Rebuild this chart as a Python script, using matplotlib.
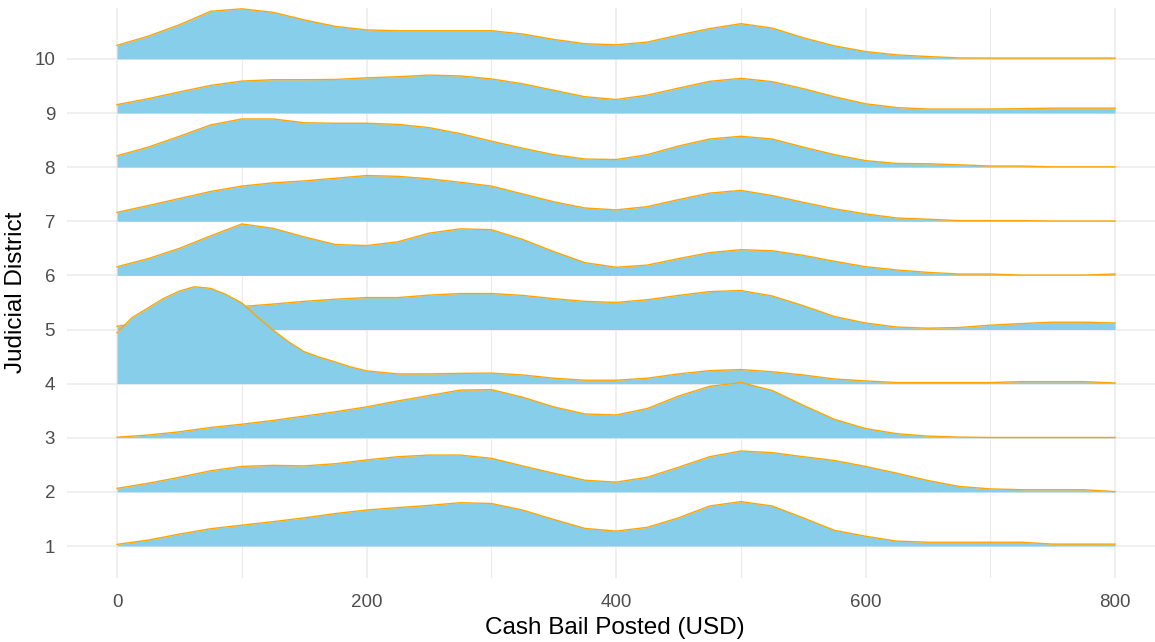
import matplotlib
matplotlib.use("Agg")
import matplotlib.pyplot as plt
from matplotlib.ticker import MultipleLocator

# ---- data (ridge heights, in y-units above each district's baseline) ----
districts = [1, 2, 3, 4, 5, 6, 7, 8, 9, 10]
x_grid = [0, 25, 50, 75, 100, 125, 150, 175, 200, 225, 250, 275, 300, 325, 350,
          375, 400, 425, 450, 475, 500, 525, 550, 575, 600, 625, 650, 675, 700,
          725, 750, 775, 800]
x_d4 = [0, 12, 25, 37, 50, 62, 75, 87, 100, 112, 125, 137, 150, 162, 175, 187,
        200, 225, 250, 275, 300, 325, 350, 375, 400, 425, 450, 475, 500, 525,
        550, 575, 600, 625, 650, 675, 700, 725, 750, 775, 800]

h_d1 = [0.03, 0.11, 0.22, 0.32, 0.385, 0.45, 0.52, 0.60, 0.665, 0.71, 0.75, 0.80,
        0.785, 0.665, 0.49, 0.325, 0.275, 0.345, 0.52, 0.74, 0.82, 0.74, 0.52,
        0.29, 0.18, 0.09, 0.07, 0.07, 0.07, 0.07, 0.035, 0.035, 0.035]
h_d2 = [0.065, 0.16, 0.27, 0.39, 0.47, 0.49, 0.48, 0.52, 0.59, 0.65, 0.68, 0.68,
        0.62, 0.48, 0.345, 0.215, 0.18, 0.27, 0.455, 0.65, 0.755, 0.725, 0.65,
        0.58, 0.47, 0.345, 0.21, 0.10, 0.055, 0.04, 0.04, 0.04, 0.005]
h_d3 = [0.01, 0.05, 0.11, 0.19, 0.25, 0.32, 0.40, 0.48, 0.57, 0.68, 0.78, 0.88,
        0.89, 0.75, 0.57, 0.44, 0.42, 0.54, 0.77, 0.95, 1.02, 0.875, 0.60, 0.34,
        0.17, 0.075, 0.03, 0.012, 0.005, 0.005, 0.005, 0.005, 0.005]
h_d4 = [0.94, 1.22, 1.40, 1.57, 1.71, 1.79, 1.76, 1.65, 1.49, 1.24, 0.99, 0.78,
        0.59, 0.49, 0.40, 0.31, 0.235, 0.18, 0.18, 0.19, 0.195, 0.16, 0.10,
        0.063, 0.063, 0.10, 0.18, 0.24, 0.26, 0.22, 0.16, 0.086, 0.05, 0.02,
        0.02, 0.02, 0.02, 0.037, 0.037, 0.037, 0.012]
h_d5 = [0.06, 0.15, 0.25, 0.34, 0.425, 0.47, 0.52, 0.56, 0.59, 0.59, 0.635, 0.665,
        0.665, 0.63, 0.57, 0.52, 0.50, 0.55, 0.63, 0.70, 0.72, 0.62, 0.44, 0.24,
        0.12, 0.045, 0.025, 0.037, 0.08, 0.11, 0.135, 0.135, 0.12]
h_d6 = [0.16, 0.31, 0.50, 0.73, 0.95, 0.87, 0.71, 0.57, 0.55, 0.62, 0.78, 0.86,
        0.845, 0.665, 0.44, 0.235, 0.15, 0.19, 0.31, 0.42, 0.475, 0.455, 0.37,
        0.26, 0.16, 0.10, 0.055, 0.025, 0.025, 0.005, 0.005, 0.005, 0.025]
h_d7 = [0.165, 0.29, 0.42, 0.55, 0.65, 0.71, 0.745, 0.795, 0.845, 0.83, 0.785,
        0.72, 0.65, 0.505, 0.36, 0.245, 0.21, 0.27, 0.40, 0.52, 0.57, 0.475,
        0.35, 0.23, 0.135, 0.06, 0.037, 0.012, 0.012, 0.012, 0.004, 0.004, 0.004]
h_d8 = [0.21, 0.37, 0.57, 0.78, 0.89, 0.89, 0.82, 0.81, 0.81, 0.79, 0.73, 0.62,
        0.48, 0.35, 0.23, 0.15, 0.14, 0.23, 0.39, 0.52, 0.57, 0.52, 0.37, 0.23,
        0.12, 0.068, 0.062, 0.043, 0.02, 0.02, 0.005, 0.005, 0.005]
h_d9 = [0.155, 0.265, 0.39, 0.51, 0.59, 0.615, 0.615, 0.62, 0.65, 0.67, 0.70,
        0.685, 0.63, 0.54, 0.42, 0.30, 0.25, 0.33, 0.46, 0.585, 0.64, 0.58, 0.45,
        0.30, 0.17, 0.10, 0.074, 0.074, 0.074, 0.08, 0.09, 0.09, 0.09]
h_d10 = [0.25, 0.42, 0.63, 0.88, 0.925, 0.86, 0.72, 0.60, 0.535, 0.52, 0.52,
         0.52, 0.52, 0.46, 0.36, 0.28, 0.26, 0.31, 0.44, 0.56, 0.65, 0.57, 0.39,
         0.24, 0.135, 0.074, 0.043, 0.018, 0.015, 0.015, 0.015, 0.015, 0.015]

x_ticks = [0, 200, 400, 600, 800]
x_title = "Cash Bail Posted (USD)"
y_title = "Judicial District"

ridges = {
    1: (x_grid, h_d1), 2: (x_grid, h_d2), 3: (x_grid, h_d3), 4: (x_d4, h_d4),
    5: (x_grid, h_d5), 6: (x_grid, h_d6), 7: (x_grid, h_d7), 8: (x_grid, h_d8),
    9: (x_grid, h_d9), 10: (x_grid, h_d10),
}

# ---- figure ----
plt.rcParams['font.family'] = ['Liberation Sans', 'DejaVu Sans']
fig = plt.figure(figsize=(11.55, 6.42), dpi=100)
ax = fig.add_axes([67 / 1155, 1 - 578 / 642, 1 - 67 / 1155, (578 - 8) / 642])

fill_col = "#87CEEB"
line_col = "#FFA500"
z = 3
for d in sorted(districts, reverse=True):
    xs, hs = ridges[d]
    top = [d + h for h in hs]
    ax.fill_between(xs, [d] * len(xs), top, color=fill_col, lw=0, zorder=z)
    ax.plot(xs, top, color=line_col, lw=1.0, zorder=z + 0.5,
            solid_joinstyle='round')
    z += 1

ax.set_xlim(-40.1, 832)
ax.set_ylim(0.409, 10.94)
ax.set_xticks(x_ticks)
ax.xaxis.set_minor_locator(MultipleLocator(100))
ax.set_yticks(districts)
ax.set_yticklabels([str(d) for d in districts])

ax.grid(True, which='major', color='#EBEBEB', lw=1.1, zorder=0)
ax.grid(True, which='minor', axis='x', color='#EBEBEB', lw=0.8, zorder=0)
ax.set_axisbelow(True)
for s in ax.spines.values():
    s.set_visible(False)
ax.tick_params(which='both', length=0)
ax.tick_params(axis='x', pad=11.5, labelsize=13.5, labelcolor='#4D4D4D')
ax.tick_params(axis='y', pad=8.6, labelsize=13.5, labelcolor='#4D4D4D')

ax.set_xlabel(x_title, fontsize=17.5, color='black')
ax.set_ylabel(y_title, fontsize=17.5, color='black')
ax.xaxis.set_label_coords((615 - 67) / (1155 - 67), -(628 - 578) / 570)
ax.yaxis.set_label_coords(-(67 - 16) / 1088, (578 - 292.5) / 570)
ax.xaxis.label.set_va('center')
ax.yaxis.label.set_va('center')

fig.savefig("out.png", dpi=100, facecolor='white')
